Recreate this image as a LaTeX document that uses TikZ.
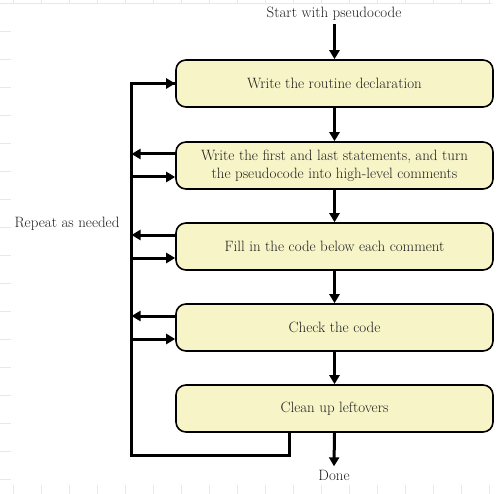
\documentclass[tikz,border=0pt]{standalone}
\usetikzlibrary{arrows.meta,calc}
\definecolor{boxfill}{HTML}{F7F5C8}
\definecolor{inktext}{HTML}{1E1E1E}
\definecolor{gridtick}{HTML}{E3E7F7}
\begin{document}
\begin{tikzpicture}[x=1bp,y=-1bp,
  every node/.style={text=inktext,font=\fontsize{15}{18}\selectfont},
  stepbox/.style={draw=black,fill=boxfill,line width=1.6bp,rounded corners=10bp,
    minimum width=317bp,minimum height=47bp,align=center,inner sep=2bp},
  flow/.style={line width=3bp,draw=black,
    -{Triangle[width=10bp,length=9bp]}},
  loopline/.style={line width=3bp,draw=black,line join=miter}]
  % page area
  \fill[white] (0,0) rectangle (500,494);
  \useasboundingbox (0,0) rectangle (500,494);
  % faint ruling along the edges
  \draw[gridtick,line width=0.8bp] (0,3.3) -- (492,3.3);
  \foreach \k in {0,...,17} {
    \draw[gridtick,line width=0.8bp] (13.7+28*\k,0) -- (13.7+28*\k,4.5);
    \draw[gridtick,line width=0.8bp] (13.7+28*\k,485) -- (13.7+28*\k,494);
  }
  \foreach \k in {0,...,16} {
    \draw[gridtick,line width=0.8bp] (0,31.7+28*\k) -- (11,31.7+28*\k);
  }

  % steps
  \node (start) at (334,14) {Start with pseudocode};
  \node[stepbox] (b1) at (334.5,83.5) {Write the routine declaration};
  \node[stepbox] (b2) at (334.5,165.5) {Write the first and last statements, and turn\\the pseudocode into high-level comments};
  \node[stepbox] (b3) at (334.5,246.5) {Fill in the code below each comment};
  \node[stepbox] (b4) at (334.5,327.5) {Check the code};
  \node[stepbox] (b5) at (334.5,408.5) {Clean up leftovers};
  \node (done) at (334,475) {Done};
  \node (repeat) at (67,224) {Repeat as needed};

  % main flow
  \draw[flow] (start.south -| b1.north) -- (b1.north);
  \draw[flow] (b1.south) -- (b2.north);
  \draw[flow] (b2.south) -- (b3.north);
  \draw[flow] (b3.south) -- (b4.north);
  \draw[flow] (b4.south) -- (b5.north);
  \draw[flow] (b5.south) -- (done.north);

  % feedback loop on the left
  \coordinate (loopbr) at (289,455);
  \coordinate (loopbl) at (131.5,455);
  \draw[loopline] (b5.south -| loopbr) -- (loopbr) -- (loopbl) |- (b1.west);
  \draw[flow] (loopbl |- b1.west) -- (b1.west);
  \foreach \b in {b2,b3,b4} {
    \coordinate (\b-out) at ($(\b.west)+(0,-11.5)$);
    \coordinate (\b-in) at ($(\b.west)+(0,11.5)$);
    \draw[flow] (\b-out) -- (\b-out -| loopbl);
    \draw[flow] (\b-in -| loopbl) -- (\b-in);
  }
\end{tikzpicture}
\end{document}
